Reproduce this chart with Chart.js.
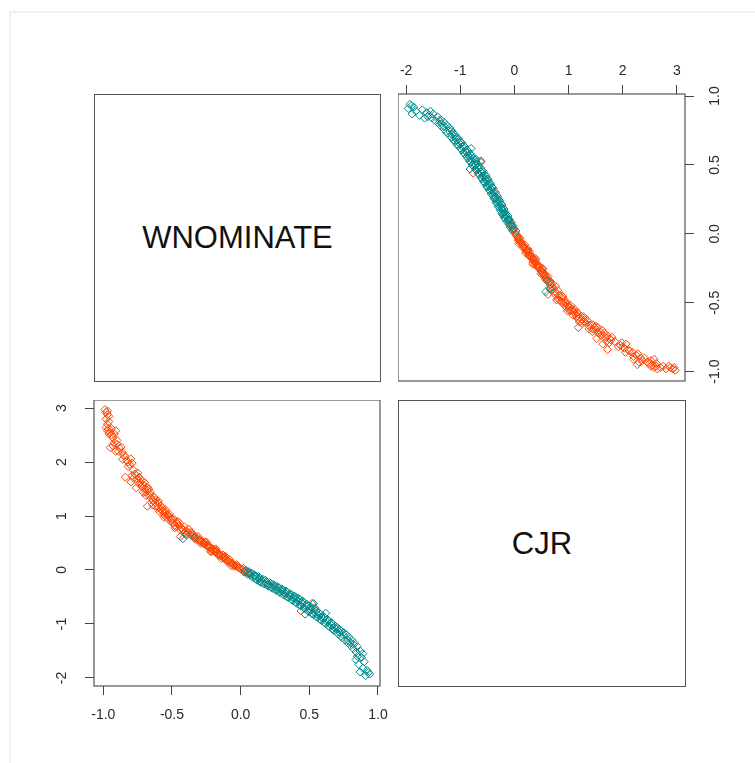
<!DOCTYPE html>
<html lang="en">
<head>
  <meta charset="UTF-8">
  <title>WNOMINATE / CJR</title>
  <style>
    body { margin: 0; background: #fff; font-family: "Liberation Sans", Arial, sans-serif; }
    .frame { position: absolute; left: 9px; top: 11px; width: 760px; height: 760px;
             border-left: 2px solid #f0f0f0; border-top: 2px solid #f0f0f0; }
    .panel { position: absolute; }
    .diag { position: absolute; box-sizing: border-box; border: 1px solid #555;
            display: flex; align-items: center; justify-content: center;
            font-size: 31px; color: #111; }
  </style>
</head>
<body>
  <div class="frame"></div>

  <div class="diag" style="left:94px; top:94px; width:287px; height:288px;">WNOMINATE</div>
  <div class="panel" style="left:398px; top:50px; width:332px; height:345px;">
    <canvas id="cjr-wnom"></canvas>
  </div>
  <div class="panel" style="left:40px; top:400px; width:355px; height:330px;">
    <canvas id="wnom-cjr"></canvas>
  </div>
  <div class="diag" style="left:398px; top:400px; width:288px; height:287px;">CJR</div>

  <script src="https://cdn.jsdelivr.net/npm/chart.js"></script>
  <script>
    // ideal points per legislator, two groups
    var tealWnom = [
      0.02, 0.03, 0.04, 0.05, 0.06, 0.07, 0.08, 0.09, 0.10, 0.11,
      0.11, 0.12, 0.13, 0.14, 0.14, 0.15, 0.16, 0.17, 0.18, 0.19,
      0.19, 0.20, 0.21, 0.22, 0.22, 0.23, 0.24, 0.25, 0.25, 0.26,
      0.27, 0.28, 0.28, 0.29, 0.30, 0.31, 0.31, 0.32, 0.33, 0.34,
      0.34, 0.35, 0.36, 0.37, 0.37, 0.38, 0.39, 0.40, 0.40, 0.41,
      0.42, 0.43, 0.43, 0.44, 0.45, 0.46, 0.46, 0.47, 0.48, 0.49,
      0.49, 0.50, 0.51, 0.52, 0.52, 0.53, 0.54, 0.55, 0.55, 0.56,
      0.57, 0.58, 0.58, 0.59, 0.60, 0.61, 0.61, 0.62, 0.63, 0.64,
      0.64, 0.65, 0.66, 0.67, 0.67, 0.68, 0.69, 0.70, 0.70, 0.71,
      0.72, 0.73, 0.73, 0.74, 0.75, 0.76, 0.77, 0.78, 0.79, 0.80,
      0.81, 0.82, 0.83, 0.84, 0.85, 0.86, 0.87, 0.88, 0.89, 0.90,
      0.84, 0.86, 0.89, 0.92, 0.87, 0.94, 0.91, 0.93, 0.82, 0.85,
      -0.40, -0.34, -0.42, 0.10, 0.15, 0.20, 0.25, 0.30, 0.35, 0.40,
      0.45, 0.50, 0.55, 0.60, 0.65, 0.70, 0.75, 0.53, 0.62, 0.47,
      0.06, 0.13, 0.18, 0.23, 0.27, 0.32, 0.38, 0.42, 0.48, 0.57,
      0.63, 0.68, 0.72, 0.78, 0.80, 0.66, 0.59, 0.51, 0.44, 0.36
    ];
    var tealCjr = [
      0.03, -0.04, -0.01, -0.08, -0.03, -0.10, -0.06, -0.14, -0.09, -0.17,
      -0.11, -0.19, -0.12, -0.22, -0.15, -0.23, -0.17, -0.26, -0.19, -0.28,
      -0.22, -0.30, -0.23, -0.32, -0.25, -0.34, -0.27, -0.36, -0.29, -0.38,
      -0.31, -0.40, -0.33, -0.43, -0.35, -0.45, -0.37, -0.47, -0.39, -0.50,
      -0.41, -0.52, -0.44, -0.55, -0.46, -0.57, -0.48, -0.60, -0.50, -0.62,
      -0.52, -0.65, -0.55, -0.67, -0.57, -0.70, -0.60, -0.72, -0.63, -0.76,
      -0.66, -0.78, -0.68, -0.81, -0.71, -0.83, -0.73, -0.86, -0.76, -0.88,
      -0.79, -0.92, -0.82, -0.94, -0.85, -0.97, -0.88, -1.00, -0.91, -1.04,
      -0.94, -1.06, -0.97, -1.10, -1.00, -1.12, -1.04, -1.16, -1.06, -1.19,
      -1.10, -1.23, -1.13, -1.26, -1.16, -1.30, -1.20, -1.35, -1.25, -1.40,
      -1.30, -1.46, -1.36, -1.52, -1.42, -1.58, -1.50, -1.62, -1.55, -1.70,
      -1.66, -1.75, -1.82, -1.86, -1.89, -1.93, -1.96, -1.90, -1.38, -1.60,
      0.66, 0.60, 0.58, -0.12, -0.19, -0.26, -0.32, -0.39, -0.46, -0.54,
      -0.62, -0.71, -0.81, -0.90, -1.00, -1.10, -1.21, -0.62, -0.80, -0.82,
      -0.06, -0.16, -0.23, -0.29, -0.36, -0.42, -0.51, -0.58, -0.68, -0.85,
      -0.96, -1.06, -1.15, -1.30, -1.35, -1.02, -0.88, -0.74, -0.60, -0.49
    ];
    var orangeWnom = [
      -0.99, -0.98, -0.97, -0.98, -0.96, -0.97, -0.96, -0.98, -0.95, -0.94,
      -0.96, -0.93, -0.91, -0.95, -0.92, -0.90, -0.89, -0.87, -0.85, -0.83,
      -0.82, -0.81, -0.80, -0.84, -0.80, -0.78, -0.76, -0.75, -0.74, -0.73,
      -0.76, -0.71, -0.70, -0.69, -0.68, -0.67, -0.66, -0.68, -0.65, -0.64,
      -0.62, -0.61, -0.60, -0.58, -0.57, -0.56, -0.55, -0.54, -0.53, -0.52,
      -0.50, -0.49, -0.48, -0.46, -0.45, -0.43, -0.44, -0.42, -0.40, -0.38,
      -0.37, -0.35, -0.34, -0.33, -0.32, -0.31, -0.30, -0.29, -0.28, -0.27,
      -0.26, -0.25, -0.24, -0.23, -0.22, -0.21, -0.20, -0.19, -0.18, -0.17,
      -0.16, -0.15, -0.14, -0.13, -0.12, -0.11, -0.10, -0.09, -0.08, -0.07,
      -0.06, -0.05, -0.04, -0.03, -0.02, -0.01, 0.00, 0.01, 0.03, 0.05,
      0.07, 0.10, 0.13, -0.27, -0.24, -0.21, -0.18, -0.15, -0.12, -0.35,
      -0.30, -0.62, -0.58, -0.72, -0.66, -0.55, -0.50, 0.52, 0.54, 0.44,
      -0.97, -0.96, -0.97, -0.94, -0.92, -0.93, -0.90, -0.88, -0.86, -0.84,
      -0.82, -0.79, -0.78, -0.77, -0.74, -0.72, -0.70, -0.69, -0.67, -0.65,
      -0.63, -0.62, -0.60, -0.59, -0.57, -0.55, -0.53, -0.51, -0.49, -0.47,
      -0.46, -0.44, -0.41, -0.39, -0.36, -0.33, -0.31, -0.29, -0.26, -0.23,
      -0.21, -0.19, -0.16, -0.13, -0.10, -0.08, -0.05, -0.03, 0.02, 0.08,
      -0.25, -0.22, -0.18, -0.14, -0.11, -0.07, -0.38, -0.41, -0.45, -0.48,
      -0.52, -0.56, -0.60, -0.64, -0.68, -0.71, -0.75, -0.79, -0.86, -0.91
    ];
    var orangeCjr = [
      2.97, 2.92, 2.88, 2.80, 2.85, 2.70, 2.62, 2.64, 2.55, 2.62,
      2.52, 2.45, 2.58, 2.27, 2.36, 2.33, 2.20, 2.28, 2.12, 2.03,
      2.00, 1.96, 2.06, 1.72, 1.63, 1.85, 1.75, 1.68, 1.72, 1.62,
      1.52, 1.58, 1.50, 1.44, 1.48, 1.38, 1.40, 1.18, 1.33, 1.28,
      1.25, 1.20, 1.15, 1.18, 1.10, 1.05, 1.08, 1.02, 0.95, 0.98,
      0.92, 0.87, 0.83, 0.86, 0.82, 0.78, 0.62, 0.74, 0.72, 0.70,
      0.66, 0.63, 0.65, 0.60, 0.58, 0.56, 0.55, 0.52, 0.53, 0.49,
      0.48, 0.45, 0.46, 0.42, 0.41, 0.38, 0.36, 0.35, 0.33, 0.30,
      0.31, 0.27, 0.26, 0.23, 0.22, 0.20, 0.19, 0.16, 0.15, 0.13,
      0.12, 0.10, 0.08, 0.07, 0.05, 0.04, 0.02, 0.01, -0.02, -0.04,
      -0.08, -0.10, -0.16, 0.51, 0.43, 0.40, 0.35, 0.29, 0.24, 0.66,
      0.57, 1.30, 1.12, 1.66, 1.45, 1.00, 0.95, -0.62, -0.70, -0.76,
      2.95, 2.75, 2.58, 2.50, 2.52, 2.30, 2.40, 2.25, 2.05, 2.10,
      1.92, 1.98, 1.70, 1.78, 1.60, 1.55, 1.62, 1.38, 1.50, 1.25,
      1.35, 1.18, 1.24, 1.08, 1.15, 1.12, 1.02, 0.90, 0.95, 0.80,
      0.90, 0.75, 0.80, 0.66, 0.70, 0.57, 0.62, 0.49, 0.52, 0.45,
      0.34, 0.39, 0.27, 0.28, 0.16, 0.19, 0.07, 0.10, -0.03, -0.06,
      0.52, 0.34, 0.39, 0.21, 0.25, 0.08, 0.76, 0.68, 0.88, 0.78,
      1.04, 0.98, 1.28, 1.20, 1.54, 1.44, 1.80, 1.75, 2.18, 2.20
    ];

    var wnomTicks = [-1, -0.5, 0, 0.5, 1];
    var cjrTicks = [-2, -1, 0, 1, 2, 3];
    var wnomRange = [-1.068, 1.015];
    var cjrRange = [-2.15, 3.15];

    var teal = '#008b8b';
    var orange = '#ff4500';

    function pairs(xs, ys) {
      return xs.map(function (x, i) { return { x: x, y: ys[i] }; });
    }

    // box round the plotting region, like a base R panel
    var panelBox = {
      id: 'panelBox',
      afterDraw: function (chart) {
        var a = chart.chartArea, ctx = chart.ctx;
        ctx.save();
        ctx.strokeStyle = '#555';
        ctx.lineWidth = 1.2;
        ctx.strokeRect(a.left, a.top, a.right - a.left, a.bottom - a.top);
        ctx.restore();
      }
    };

    function axis(pos, range, tickVals, fmt, size, pad, rotate) {
      return {
        type: 'linear',
        position: pos,
        min: range[0],
        max: range[1],
        afterBuildTicks: function (s) {
          s.ticks = tickVals.map(function (v) { return { value: v }; });
        },
        afterFit: function (s) {
          if (s.isHorizontal()) s.height = size; else s.width = size;
          s.paddingTop = s.paddingBottom = s.paddingLeft = s.paddingRight = 0;
        },
        grid: { drawOnChartArea: false, drawTicks: true, tickLength: 9, color: '#444', lineWidth: 1 },
        border: { display: false },
        ticks: {
          padding: pad,
          color: '#2a2a2a',
          font: { family: '"Liberation Sans", Arial, sans-serif', size: 14 },
          minRotation: rotate ? 90 : 0,
          maxRotation: rotate ? 90 : 0,
          crossAlign: rotate ? 'center' : 'near',
          callback: fmt
        }
      };
    }

    function fmtOne(v) { return v.toFixed(1); }
    function fmtInt(v) { return String(v); }

    function scatterSets(xTeal, yTeal, xOrange, yOrange) {
      var common = { pointStyle: 'rectRot', pointRadius: 4, pointBorderWidth: 1,
                     pointBackgroundColor: 'rgba(0,0,0,0)', showLine: false };
      return [
        Object.assign({ label: 'teal', data: pairs(xTeal, yTeal), pointBorderColor: teal }, common),
        Object.assign({ label: 'orange', data: pairs(xOrange, yOrange), pointBorderColor: orange }, common)
      ];
    }

    function options(pad, scales) {
      return {
        responsive: true,
        maintainAspectRatio: false,
        animation: false,
        layout: { padding: pad, autoPadding: false },
        plugins: { legend: { display: false }, tooltip: { enabled: false } },
        scales: scales
      };
    }

    // upper right: CJR on x (top axis), WNOMINATE on y (right axis)
    new Chart(document.getElementById('cjr-wnom'), {
      type: 'scatter',
      data: { datasets: scatterSets(tealCjr, tealWnom, orangeCjr, orangeWnom) },
      options: options({ bottom: 14 }, {
        x: axis('top', cjrRange, cjrTicks, fmtInt, 44, 5, false),
        y: axis('right', wnomRange, wnomTicks, fmtOne, 45, 9, true)
      }),
      plugins: [panelBox]
    });

    // lower left: WNOMINATE on x (bottom axis), CJR on y (left axis)
    new Chart(document.getElementById('wnom-cjr'), {
      type: 'scatter',
      data: { datasets: scatterSets(tealWnom, tealCjr, orangeWnom, orangeCjr) },
      options: options({ right: 15 }, {
        x: axis('bottom', wnomRange, wnomTicks, fmtOne, 44, 12, false),
        y: axis('left', cjrRange, cjrTicks, fmtInt, 54, 17, true)
      }),
      plugins: [panelBox]
    });
  </script>
</body>
</html>
